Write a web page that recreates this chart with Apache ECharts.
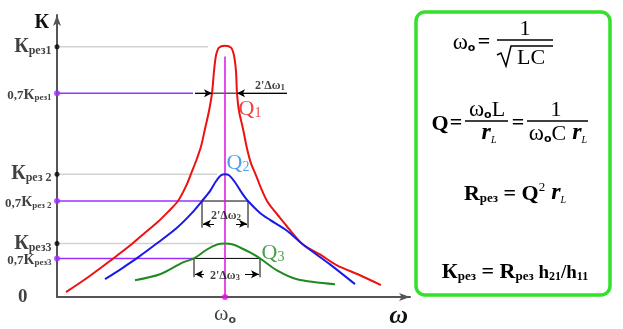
<!DOCTYPE html>
<html>
<head>
<meta charset="utf-8">
<script src="https://cdn.jsdelivr.net/npm/echarts@6/dist/echarts.min.js"></script>
<style>
  html, body { margin: 0; padding: 0; background: #ffffff; }
  #chart { width: 623px; height: 329px; }
</style>
</head>
<body>
<div id="chart"></div>
<script>
// Resonance curves of a parallel LC circuit for three quality factors (Q1 > Q2 > Q3)
const redCurve = [[9,5],[31,20],[55,38],[73,52],[88,65],[101,76],[111,86],[121,97],[129,112],[135,127],[140,140],[144,152],[148,170],[152,188],[155,206],[157,228],[159,244],[162,252],[168,254],[174,252],[177,244],[179,228],[180,206],[182,188],[186,170],[190,150],[194,135],[199,123],[204,110],[210,97],[215,90],[223,80],[231,70],[246,53],[263,43],[280,32],[303,22],[324,12]];
const blueCurve = [[48,18],[65,29],[81,40],[101,55],[120,70],[135,85],[145,97],[153,107],[159,117],[164,123],[168,124],[172,123],[178,116],[185,105],[191,97],[203,85],[213,78],[230,67],[246,53],[273,33],[298,13]];
const greenCurve = [[78,17],[103,23],[126,35],[137,39],[150,48],[160,53],[168,54],[176,53],[183,50],[193,45],[203,39],[220,27],[240,18],[278,13]];

const omega0 = 168;
const kRes = [253, 124, 54];        // resonance gains Kрез1..3
const kBand = [206, 97, 39];        // 0.7·Kрез levels
const bandLeft = [155, 145, 137];   // lower bandwidth edges
const bandRight = [180, 191, 203];  // upper bandwidth edges
const refLineEnd = [151, 160, 156];
const bandLineEnd = [136, 145, 137];
const kResTicks = ['рез1', 'рез 2', 'рез3'];
const kBandTicks = ['рез1', 'рез 2', 'рез3'];
const curveColors = ['#ee1111', '#1a1ae8', '#1f8a1f'];
const qColors = ['#ee1111', '#1e88f0', '#1f8a1f'];

const SERIF = 'Liberation Serif';
const PURPLE = '#9b30ff';
const MAGENTA = '#e010e0';

function seg(data, color, width) {
  return { type: 'line', data, symbol: 'none', silent: true, z: 2,
           lineStyle: { color, width }, animation: false };
}

const series = [];

// horizontal guides at Kрез levels
kRes.forEach((k, i) => series.push(seg([[0, k], [refLineEnd[i], k]], '#d2d2d2', 1.5)));
// 0.7·Kрез guides
kBand.forEach((k, i) => series.push(seg([[0, k], [bandLineEnd[i], k]], PURPLE, 1.5)));

// bandwidth brackets
series.push(seg([[138, kBand[0]], [230, kBand[0]]], '#000', 1));
series.push(seg([[bandLeft[1], 70], [bandLeft[1], kBand[1]], [bandRight[1], kBand[1]], [bandRight[1], 70]], '#000', 1));
series.push(seg([[bandLeft[2], 20], [bandLeft[2], kBand[2]], [bandRight[2], kBand[2]], [bandRight[2], 20]], '#000', 1));

// arrows of the bandwidth marks
function arrow(x1, y1, x2, y2) {
  return [{ coord: [x1, y1] }, { coord: [x2, y2] }];
}
series.push({
  type: 'line', data: [], silent: true, animation: false,
  markLine: {
    silent: true, animation: false,
    symbol: ['none', 'arrow'], symbolSize: [6, 8],
    label: { show: false },
    lineStyle: { color: '#000', width: 1, type: 'solid' },
    data: [
      arrow(138, kBand[0], bandLeft[0], kBand[0]),
      arrow(230, kBand[0], bandRight[0], kBand[0]),
      arrow(157, 74, bandLeft[1] + 1, 74),
      arrow(179, 74, bandRight[1] - 1, 74),
      arrow(147, 23, bandLeft[2] + 1, 23),
      arrow(188, 23, bandRight[2] - 1, 23)
    ]
  }
});

// resonance frequency marker
series.push(seg([[omega0, 0], [omega0, 243]], MAGENTA, 1.5));

// resonance curves
[redCurve, blueCurve, greenCurve].forEach((c, i) => series.push({
  type: 'line', data: c, symbol: 'none', smooth: 0.3,
  silent: true, animation: false, z: 3,
  lineStyle: { color: curveColors[i], width: 2 }
}));

// axis dots
series.push({ type: 'scatter', symbolSize: 5, silent: true, animation: false, z: 5,
  itemStyle: { color: '#000' }, data: kRes.map(k => [0, k]) });
series.push({ type: 'scatter', symbolSize: 6, silent: true, animation: false, z: 5,
  itemStyle: { color: PURPLE }, data: kBand.map(k => [0, k]) });
series.push({ type: 'scatter', symbolSize: 6, silent: true, animation: false, z: 5,
  itemStyle: { color: MAGENTA }, data: [[omega0, 0]] });

// text labels
const richAxis = {
  k: { fontFamily: SERIF, fontWeight: 'bold', fontSize: 20, color: '#111', verticalAlign: 'bottom', lineHeight: 20 },
  s: { fontFamily: SERIF, fontWeight: 'bold', fontSize: 12, color: '#111', verticalAlign: 'bottom', lineHeight: 16 },
  n: { fontFamily: SERIF, fontWeight: 'bold', fontSize: 13, color: '#111', verticalAlign: 'bottom', lineHeight: 18 },
  k2: { fontFamily: SERIF, fontWeight: 'bold', fontSize: 15, color: '#111', verticalAlign: 'bottom', lineHeight: 18 },
  s2: { fontFamily: SERIF, fontWeight: 'bold', fontSize: 9, color: '#111', verticalAlign: 'bottom', lineHeight: 15 },
  z: { fontFamily: SERIF, fontWeight: 'bold', fontSize: 19, color: '#111' },
  w: { fontFamily: SERIF, fontSize: 22, color: '#111', verticalAlign: 'bottom', lineHeight: 22 },
  o: { fontFamily: 'DejaVu Sans', fontWeight: 'bold', fontSize: 11, color: '#111', verticalAlign: 'bottom', lineHeight: 17 },
  q: { fontFamily: SERIF, fontSize: 22, verticalAlign: 'bottom', lineHeight: 22 },
  qs: { fontFamily: SERIF, fontSize: 14, verticalAlign: 'bottom', lineHeight: 17 },
  b: { fontFamily: SERIF, fontWeight: 'bold', fontSize: 12, color: '#111', verticalAlign: 'bottom', lineHeight: 16 },
  bs: { fontFamily: SERIF, fontWeight: 'bold', fontSize: 9, color: '#111', verticalAlign: 'bottom', lineHeight: 14 }
};

function lbl(x, y, text, position, distance, color, offset) {
  return { value: [x, y], label: { show: true, formatter: text, position, distance,
           color: color || '#111', rich: richAxis, offset: offset || [0, 0] } };
}

const labelData = [];
kRes.forEach((k, i) => labelData.push(lbl(0, k, '{k|К}{s|' + kResTicks[i] + '}', 'left', 5)));
kBand.forEach((k, i) => labelData.push(lbl(0, k, '{n|0,7}{k2|К}{s2|' + kBandTicks[i] + '}', 'left', 5)));
labelData.push(lbl(0, 0, '{z|0}', 'left', 29));
labelData.push(lbl(omega0, 0, '{w|ω}{o|o}', 'bottom', 6));
// quality factor labels
labelData.push(lbl(193, 190, '{q|Q}{qs|1}', 'inside', 0, qColors[0]));
labelData.push(lbl(181, 135, '{q|Q}{qs|2}', 'inside', 0, qColors[1]));
labelData.push(lbl(216, 44, '{q|Q}{qs|3}', 'inside', 0, qColors[2]));
// bandwidth labels
labelData.push(lbl(213, 215, "{b|2'Δω}{bs|1}", 'inside', 0));
labelData.push(lbl(169, 84, "{b|2'Δω}{bs|2}", 'inside', 0));
labelData.push(lbl(168, 23, "{b|2'Δω}{bs|3}", 'inside', 0));

series.push({ type: 'scatter', symbolSize: 1, silent: true, animation: false, z: 6,
  itemStyle: { color: 'rgba(0,0,0,0)' }, data: labelData });

// formula panel
const F = { fontFamily: SERIF, fill: '#000' };
function txt(x, y, text, rich, align) {
  return { type: 'text', x, y, silent: true,
    style: Object.assign({}, F, { text, align: align || 'center', verticalAlign: 'middle', rich }) };
}
function bar(x1, x2, y) {
  return { type: 'line', silent: true, shape: { x1, y1: y, x2, y2: y }, style: { stroke: '#000', lineWidth: 1.5 } };
}
const richF = {
  w: { fontFamily: SERIF, fontSize: 23, verticalAlign: 'bottom', lineHeight: 24 },
  o: { fontFamily: 'DejaVu Sans', fontWeight: 'bold', fontSize: 11, verticalAlign: 'bottom', lineHeight: 19 },
  n: { fontFamily: SERIF, fontSize: 22, verticalAlign: 'bottom', lineHeight: 24 },
  B: { fontFamily: SERIF, fontWeight: 'bold', fontSize: 22, verticalAlign: 'bottom', lineHeight: 24 },
  e: { fontFamily: SERIF, fontWeight: 'bold', fontSize: 22, verticalAlign: 'bottom', lineHeight: 24 },
  s: { fontFamily: SERIF, fontWeight: 'bold', fontSize: 13, verticalAlign: 'bottom', lineHeight: 20 },
  r: { fontFamily: SERIF, fontWeight: 'bold', fontStyle: 'italic', fontSize: 24, verticalAlign: 'bottom', lineHeight: 24 },
  L: { fontFamily: SERIF, fontStyle: 'italic', fontSize: 10, verticalAlign: 'bottom', lineHeight: 20 },
  sup: { fontFamily: SERIF, fontSize: 13, verticalAlign: 'top', lineHeight: 24 },
  h: { fontFamily: SERIF, fontWeight: 'bold', fontSize: 19, verticalAlign: 'bottom', lineHeight: 24 },
  hs: { fontFamily: SERIF, fontWeight: 'bold', fontSize: 12, verticalAlign: 'bottom', lineHeight: 19 }
};

const graphic = [
  { type: 'rect', silent: true, shape: { x: 416, y: 12, width: 194, height: 283, r: 9 },
    style: { fill: '#fff', stroke: '#33e02a', lineWidth: 3.5 }, z: -1 },
  // ω0 = 1/√LC
  txt(464, 42, '{w|ω}{o|o}', richF),
  txt(484, 41, '{e|=}', richF),
  txt(525, 28, '{n|1}', richF),
  bar(497, 553, 40),
  { type: 'polyline', silent: true,
    shape: { points: [[497, 55], [501, 53], [506, 66], [511, 46], [553, 46]] },
    style: { stroke: '#000', lineWidth: 1.5, fill: null } },
  txt(531, 57, '{n|LC}', richF),
  // Q = ω0L / rL = 1 / (ω0C rL)
  txt(440, 123, '{B|Q}', richF),
  txt(456, 122, '{e|=}', richF),
  txt(487, 109, '{w|ω}{o|o}{n|L}', richF),
  bar(465, 508, 121),
  txt(489, 133, '{r|r}{L|L}', richF),
  txt(518, 122, '{e|=}', richF),
  txt(556, 109, '{n|1}', richF),
  bar(527, 588, 121),
  txt(558, 133, '{w|ω}{o|o}{n|C}{r| r}{L|L}', richF),
  // Rрез = Q² rL
  txt(515, 193, '{B|R}{s|рез}{e| = }{B|Q}{sup|2}{r| r}{L|L}', richF),
  // Kрез = Rрез h21/h11
  txt(515, 271, '{B|К}{s|рез}{e| = }{B|R}{s|рез}{h| h}{hs|21}{h|/h}{hs|11}', richF)
];

const chart = echarts.init(document.getElementById('chart'), null, { renderer: 'canvas' });
chart.setOption({
  animation: false,
  backgroundColor: '#ffffff',
  grid: { left: 57, top: 15, width: 353, height: 285, containLabel: false },
  xAxis: {
    type: 'value', min: 0, max: 353,
    axisLine: { show: true, symbol: ['none', 'arrow'], symbolSize: [6, 11], symbolOffset: [0, 0],
                lineStyle: { color: '#555', width: 2 } },
    axisTick: { show: false }, axisLabel: { show: false }, splitLine: { show: false },
    name: 'ω', nameLocation: 'end', nameGap: -2,
    nameTextStyle: { fontFamily: SERIF, fontStyle: 'italic', fontWeight: 'bold', fontSize: 26,
                     color: '#111', align: 'right', verticalAlign: 'top', padding: [6, 0, 0, 0] }
  },
  yAxis: {
    type: 'value', min: 0, max: 285,
    axisLine: { show: true, symbol: ['none', 'arrow'], symbolSize: [6, 11],
                lineStyle: { color: '#555', width: 2 } },
    axisTick: { show: false }, axisLabel: { show: false }, splitLine: { show: false },
    name: 'К', nameLocation: 'end', nameGap: -8,
    nameTextStyle: { fontFamily: SERIF, fontWeight: 'bold', fontSize: 20, color: '#111',
                     align: 'right', verticalAlign: 'middle', padding: [0, 8, 0, 0] }
  },
  series,
  graphic
});
</script>
</body>
</html>
